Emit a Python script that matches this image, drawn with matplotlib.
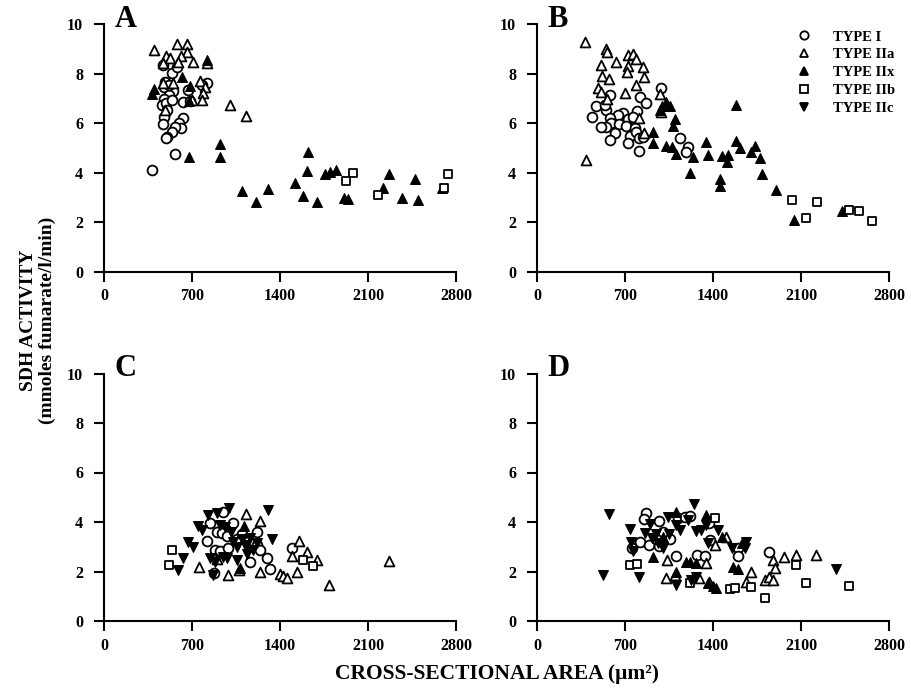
import matplotlib
matplotlib.use('Agg')
import matplotlib.pyplot as plt
from matplotlib.lines import Line2D

plt.rcParams['font.family'] = ['Liberation Serif', 'DejaVu Serif']
plt.rcParams['font.weight'] = 'bold'

# ---- data: (cross-sectional area, SDH activity) per fibre type ----
# Panel A
A_I = [(383, 4.11), (565, 4.75), (538, 8.01), (578, 8.28), (472, 8.34), (485, 7.67), (477, 7.44),
       (547, 7.31), (520, 7.13), (477, 6.96), (459, 6.73), (493, 6.80), (538, 6.93), (499, 6.53),
       (477, 6.26), (467, 5.96), (631, 6.19), (599, 6.02), (610, 5.79), (565, 5.85), (538, 5.65),
       (499, 5.45), (492, 5.38), (817, 7.63), (671, 7.33), (631, 6.86), (684, 6.90), (780, 7.55),
       (520, 7.55)]
A_IIa = [(398, 8.95), (578, 9.19), (663, 9.19), (663, 8.88), (610, 8.71), (493, 8.71), (525, 8.61),
         (705, 8.45), (822, 8.41), (591, 8.48), (472, 8.41), (764, 7.71), (803, 7.47), (551, 7.63),
         (790, 7.20), (777, 6.93), (485, 6.53), (1002, 6.73), (1130, 6.29), (472, 7.61), (700, 6.95)]
A_IIx = [(618, 7.85), (684, 7.50), (398, 7.36), (379, 7.17), (679, 6.90), (817, 8.55), (923, 5.16),
         (923, 4.62), (674, 4.62), (1625, 4.84), (1612, 4.08), (1095, 3.27), (1209, 2.83), (1307, 3.33),
         (1519, 3.59), (1586, 3.06), (1692, 2.83), (1758, 3.95), (1798, 4.01), (1846, 4.11), (1909, 2.96),
         (1943, 2.92), (2270, 3.94), (2474, 3.73), (2217, 3.37), (2368, 2.96), (2500, 2.89), (2686, 3.37)]
A_IIb = [(1978, 3.97), (1922, 3.67), (2177, 3.10), (2734, 3.93), (2705, 3.37)]

# Panel B
B_I = [(990, 7.40), (817, 7.07), (870, 6.80), (578, 7.13), (472, 6.69), (546, 6.53), (441, 6.26),
       (684, 6.39), (644, 6.33), (795, 6.50), (578, 6.19), (724, 6.15), (764, 6.26), (592, 5.99),
       (652, 5.96), (552, 5.85), (512, 5.83), (711, 5.88), (777, 5.79), (618, 5.59), (737, 5.48),
       (785, 5.65), (811, 5.38), (843, 5.43), (584, 5.32), (724, 5.18), (1135, 5.38), (1201, 5.05),
       (1183, 4.84), (811, 4.87), (540, 6.75)]
B_IIa = [(385, 9.29), (546, 8.98), (557, 8.88), (724, 8.75), (764, 8.78), (785, 8.57), (512, 8.34),
         (632, 8.48), (724, 8.30), (716, 8.07), (843, 8.25), (849, 7.85), (520, 7.90), (570, 7.77),
         (791, 7.54), (485, 7.40), (512, 7.27), (698, 7.23), (557, 6.96), (982, 7.16), (990, 6.46),
         (811, 6.19), (849, 5.61), (393, 4.51)]
B_IIx = [(1029, 6.86), (1056, 6.69), (998, 6.69), (976, 6.53), (1101, 6.15), (1082, 5.88), (923, 5.65),
         (923, 5.21), (1029, 5.07), (1077, 5.05), (1109, 4.75), (1241, 4.62), (1342, 5.22), (1361, 4.70),
         (1475, 4.68), (1519, 4.70), (1511, 4.42), (1586, 6.73), (1586, 5.28), (1618, 4.98), (1734, 5.09),
         (1702, 4.84), (1777, 4.58), (1217, 3.97), (1456, 3.73), (1456, 3.46), (1793, 3.93), (1904, 3.30),
         (2042, 2.09), (2429, 2.45)]
B_IIb = [(2029, 2.89), (2228, 2.80), (2143, 2.15), (2482, 2.49), (2562, 2.45), (2663, 2.05)]

# Panel C
C_I = [(949, 4.42), (843, 3.96), (897, 3.61), (936, 3.55), (976, 3.42), (1029, 3.96), (817, 3.25),
       (1215, 3.61), (883, 2.85), (923, 2.81), (989, 2.94), (1161, 2.40), (1294, 2.54), (1321, 2.09),
       (875, 1.93), (1215, 3.08), (1241, 2.88), (1493, 2.94), (1060, 3.30), (1100, 3.50)]
C_IIa = [(1130, 4.32), (1241, 4.06), (1554, 3.24), (1493, 2.63), (1617, 2.77), (1692, 2.47), (1533, 2.00),
         (1400, 1.89), (1422, 1.80), (1458, 1.73), (1241, 2.00), (989, 1.86), (1074, 2.06), (758, 2.17),
         (1792, 1.46), (2270, 2.44), (900, 2.50)]
C_IIx = [(1114, 3.82), (1082, 2.15), (1150, 3.00)]
C_IIb = [(538, 2.87), (520, 2.27), (1581, 2.47), (1665, 2.23)]
C_IIc = [(997, 4.56), (1307, 4.49), (830, 4.29), (897, 4.36), (923, 3.89), (750, 3.82), (777, 3.68),
         (671, 3.21), (711, 3.01), (591, 2.06), (626, 2.54), (1029, 3.21), (1056, 3.01), (1122, 3.08),
         (1161, 3.35), (1188, 2.88), (1215, 3.15), (1334, 3.31), (843, 2.54), (883, 2.40), (870, 1.86),
         (1056, 2.47), (949, 2.60), (976, 2.54), (1100, 3.30), (1140, 2.70), (960, 3.80), (1010, 3.60)]

# Panel D
D_I = [(865, 4.38), (849, 4.12), (971, 4.06), (1122, 4.16), (1175, 4.20), (1220, 4.25), (1368, 3.96),
       (822, 3.21), (891, 3.08), (971, 3.04), (759, 2.94), (1109, 2.63), (1273, 2.67), (1334, 2.63),
       (1599, 2.94), (1599, 2.63), (1845, 2.77), (1374, 3.28), (1000, 3.60), (1060, 3.30)]
D_IIa = [(1034, 2.47), (1029, 1.73), (1095, 1.86), (1289, 1.75), (1368, 1.59), (1414, 3.08), (1507, 3.41),
         (1348, 2.34), (1705, 1.96), (1666, 1.59), (1811, 1.66), (1846, 1.77), (1877, 1.66), (1877, 2.47),
         (1891, 2.13), (1962, 2.58), (2058, 2.67), (2216, 2.67)]
D_IIx = [(923, 2.60), (1103, 4.42), (1348, 4.29), (1183, 2.40), (1220, 2.40), (1268, 2.34), (1360, 1.53),
         (1400, 1.42), (1427, 1.32), (1559, 2.17), (1599, 2.09), (1634, 3.15), (1475, 3.41), (1109, 1.96),
         (1000, 3.40)]
D_IIb = [(743, 2.27), (796, 2.31), (1414, 4.16), (1215, 1.53), (1533, 1.28), (1573, 1.32), (1705, 1.36),
         (1811, 0.92), (2058, 2.27), (2143, 1.55), (2480, 1.40)]
D_IIc = [(573, 4.32), (525, 1.86), (811, 1.79), (1109, 1.46), (1247, 4.74), (737, 3.71), (751, 3.21),
         (764, 2.81), (857, 3.55), (918, 3.35), (963, 3.15), (1002, 2.94), (1042, 4.22), (1103, 3.89),
         (1135, 3.68), (1201, 4.09), (1268, 3.62), (1308, 3.68), (1348, 3.89), (1360, 3.15), (1440, 3.68),
         (1554, 2.94), (1652, 2.94), (1666, 3.21), (1228, 1.66), (1262, 1.79), (2380, 2.10), (900, 3.90),
         (950, 3.50), (1050, 3.50)]

type_names = ['TYPE I', 'TYPE IIa', 'TYPE IIx', 'TYPE IIb', 'TYPE IIc']
panels = {
    'A': {'TYPE I': A_I, 'TYPE IIa': A_IIa, 'TYPE IIx': A_IIx, 'TYPE IIb': A_IIb},
    'B': {'TYPE I': B_I, 'TYPE IIa': B_IIa, 'TYPE IIx': B_IIx, 'TYPE IIb': B_IIb},
    'C': {'TYPE I': C_I, 'TYPE IIa': C_IIa, 'TYPE IIx': C_IIx, 'TYPE IIb': C_IIb, 'TYPE IIc': C_IIc},
    'D': {'TYPE I': D_I, 'TYPE IIa': D_IIa, 'TYPE IIx': D_IIx, 'TYPE IIb': D_IIb, 'TYPE IIc': D_IIc},
}
x_ticks = [0, 700, 1400, 2100, 2800]
y_ticks = [0, 2, 4, 6, 8, 10]

# marker style per type: (marker, filled, size)
styles = {
    'TYPE I': ('o', False, 50),
    'TYPE IIa': ('^', False, 50),
    'TYPE IIx': ('^', True, 50),
    'TYPE IIb': ('s', False, 38),
    'TYPE IIc': ('v', True, 50),
}

fig = plt.figure(figsize=(9.11, 6.88), dpi=100)

W, H = 911, 688
boxes = {  # axes placement in pixels: left, top, right, bottom
    'A': (104, 24, 456, 271.7),
    'B': (537, 24, 889, 271.7),
    'C': (104, 373.5, 456, 621),
    'D': (537, 373.5, 889, 621),
}

for name, (l, t, r, b) in boxes.items():
    ax = fig.add_axes([l / W, 1 - b / H, (r - l) / W, (b - t) / H])
    for tname in type_names:
        pts = panels[name].get(tname)
        if not pts:
            continue
        xs = [p[0] for p in pts]
        ys = [p[1] for p in pts]
        m, filled, s = styles[tname]
        if filled:
            ax.scatter(xs, ys, marker=m, s=s, c='black', edgecolors='black', linewidths=0.8, clip_on=False)
        else:
            ax.scatter(xs, ys, marker=m, s=s, facecolors='white', edgecolors='black', linewidths=1.3, clip_on=False)
    ax.set_xlim(0, 2800)
    ax.set_ylim(0, 10)
    ax.set_xticks(x_ticks)
    ax.set_yticks(y_ticks)
    ax.spines['top'].set_visible(False)
    ax.spines['right'].set_visible(False)
    ax.spines['left'].set_linewidth(1.5)
    ax.spines['bottom'].set_linewidth(1.5)
    ax.tick_params(direction='out', length=7, width=1.5, labelsize=11.5, pad=8)
    ax.tick_params(axis='x', pad=5)
    for lab in ax.get_xticklabels() + ax.get_yticklabels():
        lab.set_fontweight('bold')
    ax.text(0.03, 1.02, name, transform=ax.transAxes, fontsize=22, fontweight='bold',
            ha='left', va='center')
    if name == 'B':
        handles = []
        for tname in type_names:
            m, filled, s = styles[tname]
            handles.append(Line2D([], [], linestyle='none', marker=m, markersize=6 if m != 's' else 5.5,
                                  markerfacecolor='black' if filled else 'white',
                                  markeredgecolor='black', markeredgewidth=1.3))
        ax.legend(handles, type_names, loc='upper left', bbox_to_anchor=(0.70, 0.998), frameon=False,
                  prop={'family': 'Liberation Serif', 'weight': 'bold', 'size': 10.5},
                  handletextpad=1.0, labelspacing=0.32, borderaxespad=0)

fig.text(0.042, 0.535, 'SDH ACTIVITY\n(mmoles fumarate/l/min)', rotation=90, ha='center', va='center',
         fontsize=14, fontweight='bold', linespacing=1.15)
fig.text(0.546, 0.02, 'CROSS-SECTIONAL AREA (\u03bcm\u00b2)', ha='center', va='center',
         fontsize=15.5, fontweight='bold')

fig.savefig('out.png', dpi=100)
